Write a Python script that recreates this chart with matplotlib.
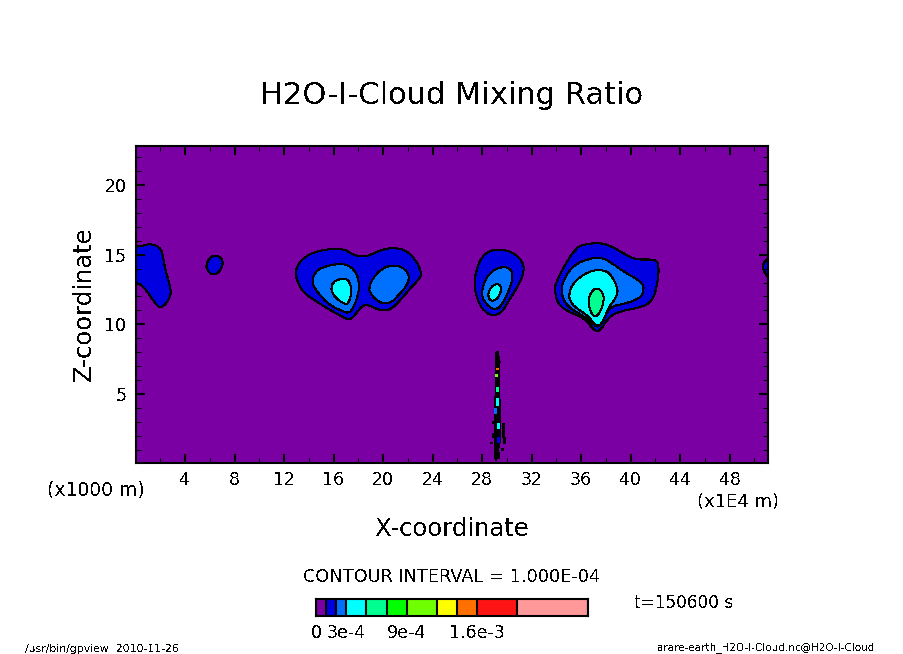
import numpy as np
import matplotlib
matplotlib.use('Agg')
import matplotlib.pyplot as plt
from matplotlib.path import Path
from matplotlib.patches import PathPatch

plt.rcParams['text.antialiased'] = False

# colour bar levels (kg/kg) and shades
levels = np.array([0, 1, 2, 3, 5, 7, 9, 12, 14, 16, 20, 27]) * 1e-4
shades = ['#7a00a3', '#0000e0', '#0070ff', '#00ffff', '#00ff90', '#00ff00',
          '#70ff00', '#ffff00', '#ff7000', '#ff1414', '#ff9999']
bar_ticks = [0, 3e-4, 9e-4, 1.6e-3]
bar_labels = ['0', '3e-4', '9e-4', '1.6e-3']

# contour outlines, x in 1E4 m, z in 1000 m
edge_left_x = [-0.3, 0.63, 1.23, 1.85, 2.17, 2.33, 2.65, 2.84, 2.73, 2.25, 1.85, 1.31, 0.50, -0.3]
edge_left_z = [15.3, 15.63, 15.75, 15.54, 15.10, 14.27, 13.19, 12.47, 11.87, 11.32, 11.28, 11.87, 12.83, 13.2]
small_x = [5.73, 6.02, 6.43, 6.88, 7.05, 6.83, 6.43, 6.02, 5.81]
small_z = [14.27, 14.77, 14.91, 14.77, 14.39, 13.86, 13.60, 13.67, 13.96]
edge_right_x = [51.4, 50.9, 50.69, 50.9, 51.4]
edge_right_z = [14.85, 14.55, 14.15, 13.65, 13.3]

a1_x = [12.95, 13.16, 13.70, 14.64, 15.72, 16.80, 17.47, 18.15, 18.74, 19.49, 20.30, 21.11, 21.92, 22.59, 23.05,
        22.94, 22.32, 21.51, 20.71, 20.03, 19.36, 18.82, 18.36, 17.88, 17.34, 16.80, 15.72, 14.64, 13.70, 13.16]
a1_z = [13.67, 14.27, 14.82, 15.22, 15.39, 15.39, 15.06, 14.89, 14.91, 15.20, 15.42, 15.46, 15.22, 14.63, 13.79,
        13.31, 12.71, 11.87, 11.16, 11.01, 11.16, 11.37, 11.32, 10.85, 10.37, 10.51, 11.04, 11.63, 12.23, 12.95]
a2_x = [14.32, 14.51, 15.18, 16.39, 17.20, 17.82, 18.04, 17.93, 17.55, 17.20, 16.66, 15.72, 14.91, 14.45]
a2_z = [13.07, 13.67, 14.10, 14.32, 14.20, 13.67, 12.83, 11.99, 11.16, 10.85, 10.99, 11.40, 12.11, 12.66]
a3_x = [18.90, 19.22, 19.90, 20.71, 21.51, 22.05, 21.92, 21.24, 20.71, 20.03, 19.49, 19.01]
a3_z = [12.66, 13.31, 13.96, 14.20, 14.10, 13.55, 12.83, 12.11, 11.63, 11.52, 11.75, 12.23]
a4_x = [15.83, 15.99, 16.53, 17.20, 17.42, 17.20, 16.80, 16.26, 15.94]
a4_z = [12.59, 13.00, 13.24, 13.14, 12.35, 11.56, 11.52, 11.87, 12.23]

b1_x = [27.39, 27.57, 27.98, 28.65, 29.60, 30.54, 31.21, 31.35, 30.94, 30.27, 29.60, 28.92, 28.25, 27.71]
b1_z = [12.83, 13.91, 14.77, 15.27, 15.34, 15.10, 14.51, 13.79, 12.83, 11.87, 10.92, 10.68, 10.92, 11.63]
b2_x = [28.00, 28.17, 28.65, 29.46, 30.13, 30.46, 30.27, 29.73, 29.19, 28.65, 28.17]
b2_z = [12.23, 12.95, 13.67, 14.08, 14.03, 13.55, 12.71, 11.63, 11.11, 11.23, 11.71]
b3_x = [28.52, 28.79, 29.19, 29.51, 29.46, 29.14, 28.71, 28.54]
b3_z = [12.23, 12.71, 12.88, 12.71, 12.23, 11.80, 11.71, 11.99]

c1_x = [33.90, 34.04, 34.71, 35.52, 36.19, 37.40, 38.35, 39.43, 40.50, 41.85, 42.25,
        42.12, 41.71, 40.77, 39.15, 38.21, 37.54, 37.00, 36.19, 34.98, 34.17]
c1_z = [12.47, 13.07, 14.27, 15.34, 15.70, 15.82, 15.63, 15.10, 14.67, 14.63, 14.15,
        12.83, 11.75, 11.23, 10.92, 10.44, 9.60, 9.65, 10.44, 10.92, 11.52]
c2_x = [34.44, 34.63, 35.38, 36.46, 37.54, 38.48, 39.43, 40.77, 41.04, 40.64, 39.43, 38.48, 37.81, 37.40, 36.87, 36.06, 34.98]
c2_z = [12.23, 13.19, 14.15, 14.63, 14.77, 14.39, 13.79, 13.07, 12.47, 11.87, 11.47, 11.23, 10.44, 9.84, 10.08, 10.68, 11.28]
c3_x = [35.06, 35.52, 36.73, 37.81, 38.48, 38.94, 38.75, 38.21, 37.67, 37.14, 36.60, 35.65, 35.17]
c3_z = [12.23, 13.07, 13.79, 13.86, 13.43, 12.47, 11.87, 11.16, 10.08, 9.96, 10.56, 11.16, 11.63]
c4_x = [36.62, 36.78, 37.27, 37.73, 37.81, 37.54, 37.14, 36.78]
c4_z = [11.63, 12.23, 12.59, 12.23, 11.63, 10.92, 10.56, 10.92]

# narrow plume near x = 29
plume_x = [29.13, 29.05, 29.05, 28.97, 28.97, 28.97, 29.05, 29.19, 29.51, 29.45, 29.51, 29.40, 29.45, 29.29]
plume_z = [8.04, 7.32, 4.93, 4.21, 2.78, 1.82, 0.26, 0.26, 1.82, 2.78, 4.21, 4.93, 7.32, 8.04]
speck_x = [28.85, 29.72, 29.80, 29.62, 28.75, 28.92, 29.32]
speck_lo = [1.89, 1.95, 1.46, 0.98, 1.45, 2.95, 0.38]
speck_hi = [2.18, 2.90, 1.94, 1.10, 1.58, 3.10, 0.86]
sliver_x = [29.24, 29.16, 29.24, 29.20, 29.08, 29.32, 29.32]
sliver_lo = [6.80, 6.30, 5.22, 4.21, 3.61, 2.54, 1.58]
sliver_hi = [6.90, 6.45, 5.53, 4.69, 3.97, 2.90, 1.94]
sliver_color = [8, 6, 4, 3, 2, 3, 1]

W, H = 904, 654


def fig_text(x, y, s, **kw):
    # x, y in image pixels from the top left
    fig.text(x / W, 1 - y / H, s, va='center', **kw)


def blob(ax, xs, zs, shade):
    # smooth closed outline; control points pushed out so the curve stays on the read points
    pts = np.column_stack([xs, zs])
    pts = pts + 0.25 * (pts - (np.roll(pts, 1, axis=0) + np.roll(pts, -1, axis=0)) / 2)
    mids = (pts + np.roll(pts, -1, axis=0)) / 2
    verts = [mids[-1]]
    codes = [Path.MOVETO]
    for p, m in zip(pts, mids):
        verts += [p, m]
        codes += [Path.CURVE3, Path.CURVE3]
    ax.add_patch(PathPatch(Path(verts, codes), facecolor=shade, edgecolor='black',
                           lw=0.75, antialiased=False, zorder=1))


fig = plt.figure(figsize=(W / 100, H / 100), dpi=100, facecolor='white')
ax = fig.add_axes([136 / W, 1 - 463 / H, 632 / W, 317 / H])
ax.set_facecolor(shades[0])
ax.set_xlim(0.04, 51.1)
ax.set_ylim(0.05, 22.8)

blob(ax, edge_left_x, edge_left_z, shades[1])
blob(ax, small_x, small_z, shades[1])
blob(ax, edge_right_x, edge_right_z, shades[1])
blob(ax, a1_x, a1_z, shades[1])
blob(ax, a2_x, a2_z, shades[2])
blob(ax, a3_x, a3_z, shades[2])
blob(ax, a4_x, a4_z, shades[3])
blob(ax, b1_x, b1_z, shades[1])
blob(ax, b2_x, b2_z, shades[2])
blob(ax, b3_x, b3_z, shades[3])
blob(ax, c1_x, c1_z, shades[1])
blob(ax, c2_x, c2_z, shades[2])
blob(ax, c3_x, c3_z, shades[3])
blob(ax, c4_x, c4_z, shades[4])

ax.fill(plume_x, plume_z, color='black', lw=0, antialiased=False, zorder=1.1)
ax.vlines(speck_x, speck_lo, speck_hi, color='black', lw=0.75, antialiased=False, zorder=1.1)
ax.vlines(sliver_x, sliver_lo, sliver_hi, color=[shades[i] for i in sliver_color], lw=0.75,
          antialiased=False, zorder=1.2)

ax.set_xticks(np.arange(4, 49, 4))
ax.set_xticks(np.arange(2, 51, 2), minor=True)
ax.set_yticks([5, 10, 15, 20])
ax.set_yticks(np.arange(1, 23), minor=True)
ax.tick_params(which='major', direction='in', length=6.5, width=1.5, top=True, right=True, labelsize=12.5)
ax.tick_params(which='minor', direction='in', length=3.5, width=0.75, top=True, right=True)
ax.tick_params(axis='x', which='major', pad=6)
ax.tick_params(axis='y', which='major', pad=7)
for s in ax.spines.values():
    s.set_linewidth(1.5)

fig_text(452, 95, 'H2O-I-Cloud Mixing Ratio', ha='center', fontsize=22)
fig_text(84, 304, 'Z-coordinate', ha='center', rotation=90, fontsize=17.5)
fig_text(452, 529, 'X-coordinate', ha='center', fontsize=17.5)
fig_text(47, 490, '(x1000 m)', ha='left', fontsize=13.5)
fig_text(697, 502, '(x1E4 m)', ha='left', fontsize=13)
fig_text(452, 577, 'CONTOUR INTERVAL = 1.000E-04', ha='center', fontsize=12.8)
fig_text(634, 603, 't=150600 s', ha='left', fontsize=12.2)
fig_text(25, 648.5, '/usr/bin/gpview  2010-11-26', ha='left', fontsize=7.8)
fig_text(657, 648, 'arare-earth_H2O-I-Cloud.nc@H2O-I-Cloud', ha='left', fontsize=7.5)

# colour bar
cax = fig.add_axes([316 / W, 1 - 616 / H, 272 / W, 17 / H])
cax.pcolormesh(levels, [0, 1], np.arange(len(shades)).reshape(1, -1),
               cmap=matplotlib.colors.ListedColormap(shades), edgecolors='none')
cax.vlines(levels, 0, 1, color='black', lw=1.5)
cax.set_xlim(levels[0], levels[-1])
cax.set_ylim(0, 1)
cax.set_yticks([])
cax.set_xticks(bar_ticks)
cax.set_xticklabels(bar_labels, fontsize=12.5)
cax.tick_params(length=0, pad=6)
for s in cax.spines.values():
    s.set_linewidth(1.5)

fig.savefig('out.png', dpi=100)
